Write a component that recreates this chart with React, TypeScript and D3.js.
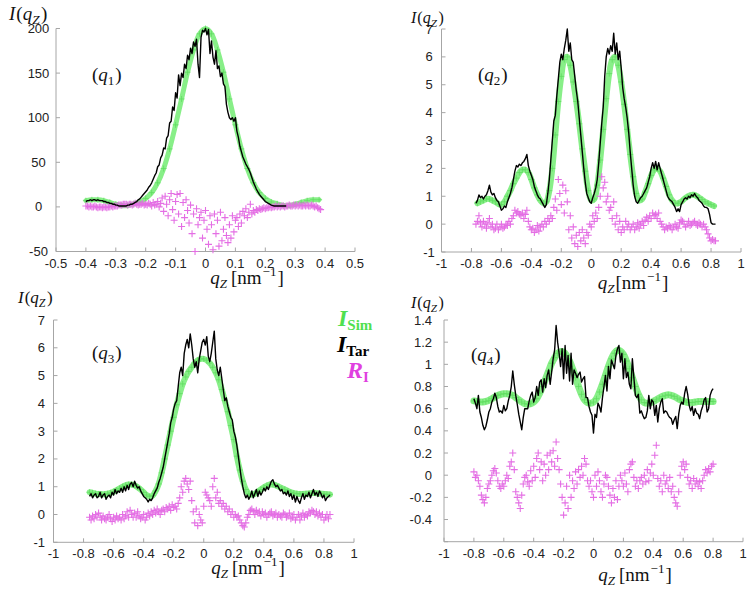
import React from "react";
import * as d3 from "d3";

// ---------- Panel (q1) ----------
const SIM1_START = -0.4, SIM1_STEP = 0.02;
const sim1 = [7, 8, 8, 7, 5, 3, 1.5, 1.5, 3.5, 5.5, 9.5, 16, 27, 43, 65, 92, 121, 151, 176, 194, 200, 194, 176, 151, 121, 92, 65, 43, 27, 16, 9.5, 5.5, 3.5, 1.5, 1.5, 3, 5, 7, 8, 8];
const TAR1_START = -0.4, TAR1_STEP = 0.005;
const tar1 = [
  6, 7, 7, 8, 7, 8, 8, 7, 8, 7,
  7, 7, 6, 6, 5, 5, 4, 4, 3, 3,
  2, 2, 1, 1, 1, 1, 1, 1, 2, 2,
  3, 3, 4, 5, 6, 8, 9, 11, 13, 15,
  17, 19, 22, 24, 27, 31, 35, 38, 45, 47,
  55, 58, 66, 65, 77, 80, 94, 96, 112, 108,
  128, 122, 148, 136, 150, 145, 160, 155, 170, 165,
  178, 172, 185, 180, 188, 160, 145, 190, 198, 196,
  200, 193, 199, 172, 186, 168, 160, 175, 155, 158,
  146, 150, 138, 135, 115, 106, 100, 98, 100, 96,
  100, 85, 78, 68, 62, 56, 52, 48, 45, 42,
  38, 33, 28, 24, 20, 17, 14, 12, 10, 8,
  6, 5, 4, 3, 2, 1.5, 1, 1, 1, 1,
  1, 1, 1, 1, 1,
];
const RES1_START = -0.4, RES1_STEP = 0.005;
const res1 = [
  1, 1, 0, 1, 0, 0, 1, 0, -1, 0, 0, -1, 0, 0, -1, 0, 0, 1, 0, 1, 1,
  1, 2, 2, 2, 3, 3, 3, 2, 3, 3, 2, 3, 4, 3, 2, 3, 3, 4, 2, 3,
  2, 4, 3, 1, 5, 2, 3, 6, 0, 4,
  10, -5, 12, 3, -10, 8, 15, -3, -15, 6,
  14, -8, 15, -22, 5, -12, 8, -4, -18, 2,
  -30, -8, -50, -2, -20, -12, -6, -35, -15, -4,
  -25, -42, -10, -20, -48, -8, -30, -15, -44, -6,
  -38, -25, -12, -32, -40, -20, -35, -10, -28, -15,
  -12, -22, -8, -18, -5, -10, -2, -12, -6, 3,
  -8, -4, -6, -3, -4, -2, -3, -2, -1, -2,
  -1, -1, 0, -1, 0, 0, 1, 0, 1, 0, 1, 1, 0, 1, 1, 2, 1, 1, 2, 1,
  2, 1, 2, 1, 1, 2, 1, 2, 1, 1, 2, 1, 0, 1, -1, -2, -3,
];

// ---------- Panel (q2) ----------
const SIM2_START = -0.76, SIM2_STEP = 0.02;
const sim2 = [
  0.75, 0.8, 0.85, 0.9, 0.9, 0.85, 0.8, 0.72, 0.7, 0.8,
  1.0, 1.2, 1.45, 1.65, 1.85, 1.95, 1.95, 1.85, 1.6, 1.3,
  1.05, 0.85, 0.75, 0.8, 1.2, 2.0, 3.2, 4.4, 5.3, 5.9,
  6.0, 5.7, 5.1, 4.4, 3.6, 2.7, 1.9, 1.2, 0.85, 0.9,
  1.4, 2.3, 3.4, 4.5, 5.4, 5.9, 6.0, 5.7, 5.1, 4.3,
  3.4, 2.5, 1.7, 1.1, 0.85, 0.9, 1.15, 1.45, 1.75, 1.95,
  2.0, 1.9, 1.65, 1.35, 1.05, 0.85, 0.75, 0.75, 0.8, 0.9,
  0.98, 1.03, 1.05, 1.02, 0.95, 0.88, 0.8, 0.75, 0.7, 0.65,
];
const TAR2_START = -0.77, TAR2_STEP = 0.01;
const tar2 = [
  0.75, 0.85, 1.05, 0.95, 1.0, 0.9, 1.0, 1.05, 1.2, 1.4,
  1.15, 1.05, 1.1, 0.95, 0.85, 0.8, 0.65, 0.5, 0.55, 0.65,
  0.6, 0.8, 0.95, 1.1, 1.3, 1.6, 1.9, 2.1, 2.05, 2.15,
  2.1, 2.2, 2.25, 2.35, 2.5, 2.1, 1.9, 1.75, 1.6, 1.35,
  1.2, 1.05, 0.95, 0.9, 0.8, 0.7, 0.6, 0.7, 1.1, 1.6,
  2.3, 3.0, 3.7, 3.9, 4.6, 5.2, 5.8, 6.1, 5.9, 6.3,
  6.6, 7.0, 6.2, 6.5, 5.9, 5.8, 5.3, 4.8, 4.4, 3.8,
  3.2, 2.6, 2.0, 1.5, 1.1, 0.95, 0.8, 0.75, 0.95, 1.1,
  1.3, 1.6, 2.2, 2.9, 3.6, 4.2, 5.3, 6.0, 6.3, 6.1,
  6.4, 6.2, 6.85, 6.1, 6.5, 5.9, 6.2, 5.6, 4.9, 4.5,
  4.2, 3.8, 3.3, 2.6, 2.0, 1.4, 1.0, 0.8, 0.75, 0.85,
  0.95, 1.0, 1.1, 1.2, 1.3, 1.5, 1.7, 2.0, 2.2, 2.0,
  2.25, 1.95, 2.2, 2.0, 1.8, 1.6, 1.4, 1.2, 1.0, 0.9,
  0.85, 0.8, 0.7, 0.6, 0.45, 0.55, 0.45, 0.7, 0.8, 0.9,
  0.95, 0.9, 1.0, 0.95, 1.05, 1.0, 1.1, 1.0, 0.95, 0.85,
  0.8, 0.75, 0.65, 0.6, 0.6, 0.55, 0.35, 0.05, 0.0, 0.0,
  0.0,
];
const RES2_START = -0.77, RES2_STEP = 0.01;
const res2 = [
  0.0, 0.1, 0.3, 0.05, -0.1, 0.1, 0.0, -0.15, 0.05, 0.2,
  -0.1, 0.0, -0.2, -0.15, 0.0, -0.2, -0.1, 0.0, -0.15, -0.1,
  0.0, -0.05, 0.1, 0.0, 0.2, 0.3, 0.5, 0.4, 0.45, 0.35,
  0.3, 0.4, 0.2, 0.35, 0.5, 0.1, -0.1, -0.2, -0.15, -0.3,
  -0.2, -0.05, -0.25, -0.1, 0.0, -0.1, 0.1, 0.0, 0.2, 0.1,
  0.3, 0.2, 0.6, 0.9, 0.5, 1.6, 1.1, 0.7, 1.4, 0.4,
  1.2, 0.8, -0.2, 0.3, -0.5, -0.1, -0.7, -0.4, -0.8, -0.3,
  -0.6, -0.2, -0.5, -0.7, -0.3, -0.4, 0.0, -0.1, 0.3, 0.1,
  0.4, 0.2, 0.6, 1.0, 1.7, 1.3, 1.5, 0.8, 1.0, 0.5,
  0.6, 0.2, 0.8, 0.0, 0.3, -0.2, 0.1, -0.3, -0.1, -0.2,
  0.1, -0.1, 0.0, -0.2, -0.1, 0.0, -0.2, -0.1, 0.05, -0.15,
  0.0, 0.1, -0.05, 0.15, 0.25, 0.1, 0.3, 0.2, 0.4, 0.3,
  0.35, 0.2, 0.4, 0.1, 0.0, -0.1, -0.2, -0.1, -0.15, -0.05,
  -0.1, -0.2, -0.1, 0.0, -0.1, -0.15, 0.05, 0.15, 0.1, 0.0,
  -0.1, 0.0, 0.1, -0.05, 0.0, 0.05, 0.1, 0.0, -0.05, 0.05,
  0.0, -0.1, 0.0, -0.1, -0.2, -0.35, -0.5, -0.6, -0.55, -0.6,
  -0.6,
];

// ---------- Panel (q3) ----------
const SIM3_START = -0.76, SIM3_STEP = 0.02;
const sim3 = [
  0.8, 0.78, 0.75, 0.74, 0.73, 0.73, 0.75, 0.78, 0.82, 0.88,
  0.94, 1.0, 1.05, 1.08, 1.08, 1.05, 0.98, 0.9, 0.8, 0.7,
  0.65, 0.68, 0.85, 1.1, 1.5, 2.0, 2.5, 3.0, 3.5, 3.95,
  4.35, 4.7, 4.95, 5.15, 5.3, 5.45, 5.55, 5.6, 5.6, 5.55,
  5.45, 5.3, 5.1, 4.85, 4.5, 4.1, 3.7, 3.2, 2.7, 2.1,
  1.6, 1.2, 0.9, 0.75, 0.72, 0.75, 0.82, 0.9, 0.98, 1.04,
  1.08, 1.08, 1.05, 1.0, 0.95, 0.9, 0.85, 0.8, 0.77, 0.75,
  0.74, 0.74, 0.75, 0.76, 0.77, 0.77, 0.76, 0.75, 0.74, 0.73,
  0.72,
];
const TAR3_START = -0.76, TAR3_STEP = 0.01;
const tar3 = [
  0.65, 0.75, 0.6, 0.7, 0.75, 0.6, 0.65, 0.8, 0.6, 0.7,
  0.75, 0.55, 0.65, 0.7, 0.6, 0.8, 0.7, 0.9, 0.75, 0.85,
  0.8, 0.95, 0.8, 1.0, 0.85, 1.05, 0.9, 1.1, 1.15, 1.0,
  1.2, 1.05, 0.95, 1.0, 0.85, 0.75, 0.65, 0.6, 0.55, 0.45,
  0.55, 0.5, 0.6, 0.75, 0.85, 0.95, 1.15, 1.3, 1.5, 1.7,
  2.0, 2.3, 2.6, 2.9, 3.3, 3.5, 3.8, 4.0, 4.1, 4.6,
  5.1, 5.3, 5.0, 5.8, 6.1, 6.3, 6.0, 6.5, 6.1, 5.6,
  5.3, 5.5, 5.1, 5.6, 5.9, 6.2, 6.3, 6.1, 6.4, 5.7,
  5.5, 5.8, 6.2, 6.6, 5.6, 5.2, 5.0, 5.3, 4.9, 4.5,
  4.1, 4.2, 3.9, 3.7, 3.5, 3.4, 3.0, 2.8, 2.5, 2.1,
  1.7, 1.3, 1.0, 0.75, 0.6, 0.7, 0.55, 0.65, 0.85, 0.6,
  0.75, 0.9, 0.65, 0.85, 0.7, 0.8, 0.95, 0.85, 1.0, 0.9,
  1.05, 1.2, 1.25, 1.1, 1.0, 1.05, 0.95, 0.85, 0.9, 0.75,
  0.8, 0.7, 0.85, 0.65, 0.75, 0.55, 0.7, 0.45, 0.65, 0.5,
  0.4, 0.6, 0.75, 0.55, 0.7, 0.65, 0.8, 0.6, 0.75, 0.9,
  0.7, 0.8, 0.65, 0.85, 0.75, 0.6, 0.7, 0.5, 0.6, 0.65,
  0.7,
];
const RES3_START = -0.76, RES3_STEP = 0.01;
const res3 = [
  -0.1, -0.2, -0.05, -0.15, 0.0, -0.1, 0.05, -0.1, -0.2, -0.05,
  -0.15, -0.2, -0.1, 0.0, -0.15, -0.25, -0.1, -0.2, -0.05, -0.15,
  -0.1, -0.2, 0.0, -0.15, -0.05, 0.1, -0.1, 0.15, 0.0, -0.1,
  0.05, -0.1, 0.1, -0.05, -0.15, -0.1, 0.0, -0.2, -0.1, 0.05,
  -0.05, 0.1, 0.0, 0.15, 0.05, 0.2, 0.1, 0.0, 0.15, 0.2,
  0.1, 0.25, 0.2, 0.3, 0.15, 0.35, 0.25, 0.3, 0.2, 0.4,
  0.6, 1.0, 0.8, 1.2, 1.3, 1.1, 0.9, 1.2, 0.5, 0.1,
  -0.3, 0.2, -0.4, 0.0, -0.2, -0.3, 0.3, 0.8, 0.7, 0.6,
  0.5, 0.3, 1.0, 1.3, 0.6, 0.8, 0.4, 0.5, 0.3, 0.4,
  0.2, 0.3, 0.1, 0.2, 0.0, 0.1, -0.1, 0.0, -0.1, -0.05,
  -0.2, -0.3, -0.4, -0.45, -0.3, -0.1, 0.0, 0.15, 0.2, 0.1,
  0.0, 0.15, 0.05, 0.1, -0.05, 0.1, 0.0, 0.05, -0.1, 0.0,
  0.05, 0.1, -0.05, 0.0, 0.05, -0.1, 0.0, -0.05, -0.1, 0.05,
  0.0, -0.1, -0.05, 0.05, -0.15, -0.1, 0.0, -0.2, -0.1, 0.0,
  -0.2, -0.05, 0.05, -0.1, 0.0, -0.05, 0.1, 0.05, 0.15, 0.1,
  0.0, 0.1, -0.05, 0.05, -0.1, 0.0, -0.2, -0.1, 0.0, -0.15,
  0.0,
];

// ---------- Panel (q4) ----------
const SIM4_START = -0.8, SIM4_STEP = 0.02;
const sim4 = [
  0.67, 0.665, 0.66, 0.66, 0.665, 0.675, 0.69, 0.705, 0.72, 0.73,
  0.735, 0.735, 0.73, 0.72, 0.7, 0.68, 0.66, 0.645, 0.64, 0.645,
  0.66, 0.69, 0.74, 0.8, 0.87, 0.94, 1.01, 1.06, 1.1, 1.115,
  1.11, 1.08, 1.03, 0.96, 0.88, 0.8, 0.73, 0.68, 0.655, 0.65,
  0.66, 0.69, 0.75, 0.82, 0.9, 0.98, 1.05, 1.1, 1.125, 1.12,
  1.09, 1.03, 0.96, 0.88, 0.8, 0.73, 0.68, 0.655, 0.65, 0.655,
  0.665, 0.68, 0.695, 0.71, 0.72, 0.725, 0.72, 0.71, 0.695, 0.68,
  0.67, 0.66, 0.655, 0.655, 0.66, 0.665, 0.665, 0.665, 0.665, 0.665,
  0.665,
];
const TAR4_START = -0.8, TAR4_STEP = 0.01;
const tar4 = [
  0.69, 0.65, 0.6, 0.72, 0.57, 0.52, 0.45, 0.41, 0.44, 0.5,
  0.57, 0.6, 0.66, 0.69, 0.74, 0.7, 0.62, 0.57, 0.58, 0.56,
  0.63, 0.58, 0.6, 0.67, 0.72, 0.8, 0.94, 0.82, 0.72, 0.64,
  0.55, 0.48, 0.41, 0.52, 0.6, 0.6, 0.6, 0.67, 0.72, 0.75,
  0.66, 0.7, 0.8, 0.72, 0.84, 0.86, 0.75, 0.87, 0.79, 0.9,
  0.95, 0.82, 0.93, 1.05, 1.13, 1.35, 1.2, 1.1, 0.98, 1.14,
  0.87, 1.17, 0.92, 1.08, 0.85, 1.1, 0.82, 0.95, 0.92, 0.88,
  0.91, 0.93, 0.84, 0.87, 0.89, 0.7, 0.7, 0.62, 0.57, 0.54,
  0.38, 0.55, 0.52, 0.65, 0.62, 0.57, 0.7, 0.8, 0.9, 0.76,
  0.98, 0.87, 1.04, 1.0, 0.96, 1.08, 1.14, 1.17, 1.02, 1.1,
  0.87, 1.05, 0.88, 0.93, 0.82, 0.78, 1.05, 0.88, 0.72, 0.7,
  0.73, 0.56, 0.58, 0.54, 0.51, 0.52, 0.58, 0.72, 0.6, 0.68,
  0.66, 0.54, 0.63, 0.48, 0.6, 0.66, 0.69, 0.56, 0.58, 0.57,
  0.54, 0.52, 0.51, 0.46, 0.5, 0.53, 0.42, 0.55, 0.63, 0.66,
  0.64, 0.74, 0.8, 0.73, 0.63, 0.58, 0.62, 0.54, 0.6, 0.56,
  0.55, 0.51, 0.58, 0.62, 0.68, 0.7, 0.57, 0.6, 0.72, 0.76,
  0.78,
];
const RES4_START = -0.8, RES4_STEP = 0.01;
const res4 = [
  0.03, -0.02, 0.0, -0.05, -0.1, -0.18, -0.22, -0.25, -0.2, -0.12,
  -0.08, -0.05, 0.0, 0.04, 0.06, 0.02, -0.05, -0.1, -0.12, -0.08,
  -0.1, -0.05, 0.0, -0.03, 0.08, 0.12, 0.2, 0.05, -0.15, -0.2,
  -0.25, -0.3, -0.18, -0.08, -0.02, 0.0, -0.06, -0.1, 0.04, -0.05,
  0.08, -0.02, 0.15, 0.2, 0.05, 0.12, -0.05, 0.1, 0.0, 0.18,
  0.05, 0.2, 0.12, 0.22, 0.08, 0.3, 0.15, 0.05, -0.08, -0.2,
  -0.36, -0.25, -0.1, -0.3, 0.0, -0.2, -0.05, -0.12, 0.03, -0.08,
  0.05, -0.02, 0.08, 0.0, 0.15, 0.1, -0.05, -0.1, -0.05, -0.15,
  -0.2, 0.0, -0.1, 0.03, -0.05, -0.15, -0.2, -0.08, 0.0, -0.02,
  -0.1, -0.18, -0.25, -0.12, -0.2, -0.05, -0.22, -0.1, 0.0, -0.05,
  -0.1, 0.02, -0.08, -0.15, 0.05, 0.1, 0.12, -0.02, -0.1, -0.05,
  -0.12, -0.05, -0.02, -0.08, 0.0, -0.06, 0.05, -0.05, 0.02, 0.1,
  0.0, 0.18, 0.27, -0.03, -0.1, -0.05, -0.15, 0.0, -0.08, -0.05,
  -0.12, -0.02, -0.15, -0.1, -0.2, -0.25, -0.28, -0.15, 0.0, 0.08,
  0.12, 0.05, 0.1, -0.02, -0.08, -0.05, -0.12, -0.03, -0.08, -0.05,
  -0.1, -0.06, -0.12, -0.05, 0.0, 0.05, 0.02, 0.06, 0.03, 0.08,
  0.1,
];

// ---------- Axis ticks ----------
const xTicksQ1 = d3.range(-5, 6).map((i) => i / 10);
const yTicksQ1 = [-50, 0, 50, 100, 150, 200];
const xTicksWide = d3.range(-5, 6).map((i) => i / 5);
const yTicksQ23 = d3.range(-1, 8);
const yTicksQ4 = d3.range(-3, 8).map((i) => i / 5);

type Pt = [number, number];
const pts = (start: number, step: number, vals: number[]): Pt[] =>
  vals.map((v, i) => [start + i * step, v]);

const fmt = (v: number) => {
  const r = Math.round(v * 10) / 10;
  return r === 0 ? "0" : String(r);
};

const SERIF = "'Liberation Serif', 'Times New Roman', serif";
const SANS = "'Liberation Sans', Arial, sans-serif";
const GREEN = "#88ef88";
const GREEN_MARK = "#5cdc5c";
const MAGENTA = "#e46ee4";

type PanelProps = {
  xr: [number, number];
  yr: [number, number];
  xd: [number, number];
  yd: [number, number];
  xTicks: number[];
  yTicks: number[];
  yLabelSkip?: number[];
  yLabelX: number;
  yLabelAnchor: "middle" | "end";
  sim: Pt[];
  tar: Pt[];
  res: Pt[];
  simW: number;
};

function Panel(p: PanelProps) {
  const x = d3.scaleLinear().domain(p.xd).range(p.xr);
  const y = d3.scaleLinear().domain(p.yd).range(p.yr);
  const lineSmooth = d3
    .line<Pt>()
    .x((d) => x(d[0]))
    .y((d) => y(d[1]))
    .curve(d3.curveCatmullRom);
  const lineRaw = d3
    .line<Pt>()
    .x((d) => x(d[0]))
    .y((d) => y(d[1]));
  const cross = (data: Pt[], h: number) =>
    data
      .map((d) => {
        const cx = x(d[0]);
        const cy = y(d[1]);
        return `M${cx - h},${cy}H${cx + h}M${cx},${cy - h}V${cy + h}`;
      })
      .join("");
  const axisY = p.yr[0];
  const axisX = p.xr[0];
  return (
    <g>
      <line x1={axisX} x2={axisX} y1={p.yr[0]} y2={p.yr[1]} stroke="#a6a6a6" strokeWidth={1} />
      <line x1={p.xr[0]} x2={p.xr[1]} y1={axisY} y2={axisY} stroke="#a6a6a6" strokeWidth={1} />
      {p.xTicks.map((t) => (
        <g key={"xt" + t}>
          <line x1={x(t)} x2={x(t)} y1={axisY} y2={axisY - 4} stroke="#a6a6a6" strokeWidth={1} />
          <text x={x(t)} y={axisY + 16} textAnchor="middle" fontFamily={SANS} fontSize={13} fill="#222">
            {fmt(t)}
          </text>
        </g>
      ))}
      {p.yTicks.map((t) => (
        <g key={"yt" + t}>
          <line x1={axisX} x2={axisX + 4} y1={y(t)} y2={y(t)} stroke="#a6a6a6" strokeWidth={1} />
          {p.yLabelSkip && p.yLabelSkip.some((s) => Math.abs(s - t) < 1e-9) ? null : (
            <text
              x={p.yLabelX}
              y={y(t)}
              dy="0.35em"
              textAnchor={p.yLabelAnchor}
              fontFamily={SANS}
              fontSize={13}
              fill="#222"
            >
              {fmt(t)}
            </text>
          )}
        </g>
      ))}
      <path d={lineSmooth(p.sim) || ""} fill="none" stroke={GREEN} strokeWidth={p.simW} strokeLinecap="round" strokeLinejoin="round" />
      <path d={cross(p.sim, 3)} fill="none" stroke={GREEN_MARK} strokeWidth={1} opacity={0.7} />
      <path d={cross(p.res, 3.5)} fill="none" stroke={MAGENTA} strokeWidth={1.1} />
      <path d={lineRaw(p.tar) || ""} fill="none" stroke="#000" strokeWidth={1.4} strokeLinejoin="round" />
    </g>
  );
}

function YTitle({ x, y, size }: { x: number; y: number; size: number }) {
  return (
    <text x={x} y={y} fontFamily={SERIF} fontSize={size} fill="#111">
      <tspan fontStyle="italic">I</tspan>
      <tspan dx={1}>(</tspan>
      <tspan fontStyle="italic">q</tspan>
      <tspan fontStyle="italic" fontSize={size * 0.7} dy={size * 0.22}>
        Z
      </tspan>
      <tspan dx={1.5} dy={-size * 0.22}>)</tspan>
    </text>
  );
}

function XTitle({ x, y, space }: { x: number; y: number; space: boolean }) {
  const s = 19;
  return (
    <text x={x} y={y} textAnchor="middle" fontFamily={SERIF} fontSize={s} fill="#111">
      <tspan fontStyle="italic">q</tspan>
      <tspan fontStyle="italic" fontSize={13} dy={4}>
        Z
      </tspan>
      <tspan dx={space ? 4 : 1} dy={-4}>[nm</tspan>
      <tspan dx={1} fontSize={13} dy={-8}>
        −1
      </tspan>
      <tspan dx={1} dy={8}>]</tspan>
    </text>
  );
}

function PanelLabel({ x, y, n }: { x: number; y: number; n: string }) {
  return (
    <text x={x} y={y} fontFamily={SERIF} fontSize={19} fill="#111">
      <tspan>(</tspan>
      <tspan fontStyle="italic">q</tspan>
      <tspan fontSize={13} dy={4}>
        {n}
      </tspan>
      <tspan dx={1} dy={-4}>)</tspan>
    </text>
  );
}

function LegendItem({ x, y, main, sub, color }: { x: number; y: number; main: string; sub: string; color: string }) {
  return (
    <text x={x} y={y} fontFamily={SERIF} fontWeight="bold" fontSize={24} fill={color}>
      <tspan fontStyle="italic">{main}</tspan>
      <tspan fontSize={15} dy={4}>
        {sub}
      </tspan>
    </text>
  );
}

export default function App() {
  return (
    <svg
      width={753}
      height={592}
      viewBox="0 0 753 592"
      style={{ position: "absolute", left: 0, top: 0, background: "#fff" }}
    >
      <rect x={0} y={0} width={753} height={592} fill="#fff" />
      <Panel
        xr={[56, 355]}
        yr={[251.5, 28.5]}
        xd={[-0.5, 0.5]}
        yd={[-50, 200]}
        xTicks={xTicksQ1}
        yTicks={yTicksQ1}
        yLabelX={38.5}
        yLabelAnchor="middle"
        sim={pts(SIM1_START, SIM1_STEP, sim1)}
        tar={pts(TAR1_START, TAR1_STEP, tar1)}
        res={pts(RES1_START, RES1_STEP, res1)}
        simW={5}
      />
      <Panel
        xr={[441.5, 741]}
        yr={[252, 29]}
        xd={[-1, 1]}
        yd={[-1, 7]}
        xTicks={xTicksWide}
        yTicks={yTicksQ23}
        yLabelX={429}
        yLabelAnchor="middle"
        sim={pts(SIM2_START, SIM2_STEP, sim2)}
        tar={pts(TAR2_START, TAR2_STEP, tar2)}
        res={pts(RES2_START, RES2_STEP, res2)}
        simW={6}
      />
      <Panel
        xr={[53.5, 354]}
        yr={[542.3, 320]}
        xd={[-1, 1]}
        yd={[-1, 7]}
        xTicks={xTicksWide}
        yTicks={yTicksQ23}
        yLabelX={45}
        yLabelAnchor="end"
        sim={pts(SIM3_START, SIM3_STEP, sim3)}
        tar={pts(TAR3_START, TAR3_STEP, tar3)}
        res={pts(RES3_START, RES3_STEP, res3)}
        simW={6}
      />
      <Panel
        xr={[444, 743]}
        yr={[541.7, 320]}
        xd={[-1, 1]}
        yd={[-0.6, 1.4]}
        xTicks={xTicksWide}
        yTicks={yTicksQ4}
        yLabelSkip={[-0.6]}
        yLabelX={432}
        yLabelAnchor="end"
        sim={pts(SIM4_START, SIM4_STEP, sim4)}
        tar={pts(TAR4_START, TAR4_STEP, tar4)}
        res={pts(RES4_START, RES4_STEP, res4)}
        simW={7}
      />

      <YTitle x={9} y={20} size={19} />
      <YTitle x={411} y={23} size={16} />
      <YTitle x={18} y={303} size={17} />
      <YTitle x={411} y={308} size={16} />

      <XTitle x={247} y={284} space={true} />
      <XTitle x={633} y={289} space={false} />
      <XTitle x={248} y={574} space={true} />
      <XTitle x={635} y={581} space={true} />

      <PanelLabel x={92} y={81} n="1" />
      <PanelLabel x={478} y={81} n="2" />
      <PanelLabel x={92} y={359} n="3" />
      <PanelLabel x={471} y={361} n="4" />

      <LegendItem x={338} y={326} main="I" sub="Sim" color="#4fe04f" />
      <LegendItem x={337} y={352} main="I" sub="Tar" color="#000" />
      <LegendItem x={347} y={378} main="R" sub="I" color="#e040e0" />
    </svg>
  );
}
